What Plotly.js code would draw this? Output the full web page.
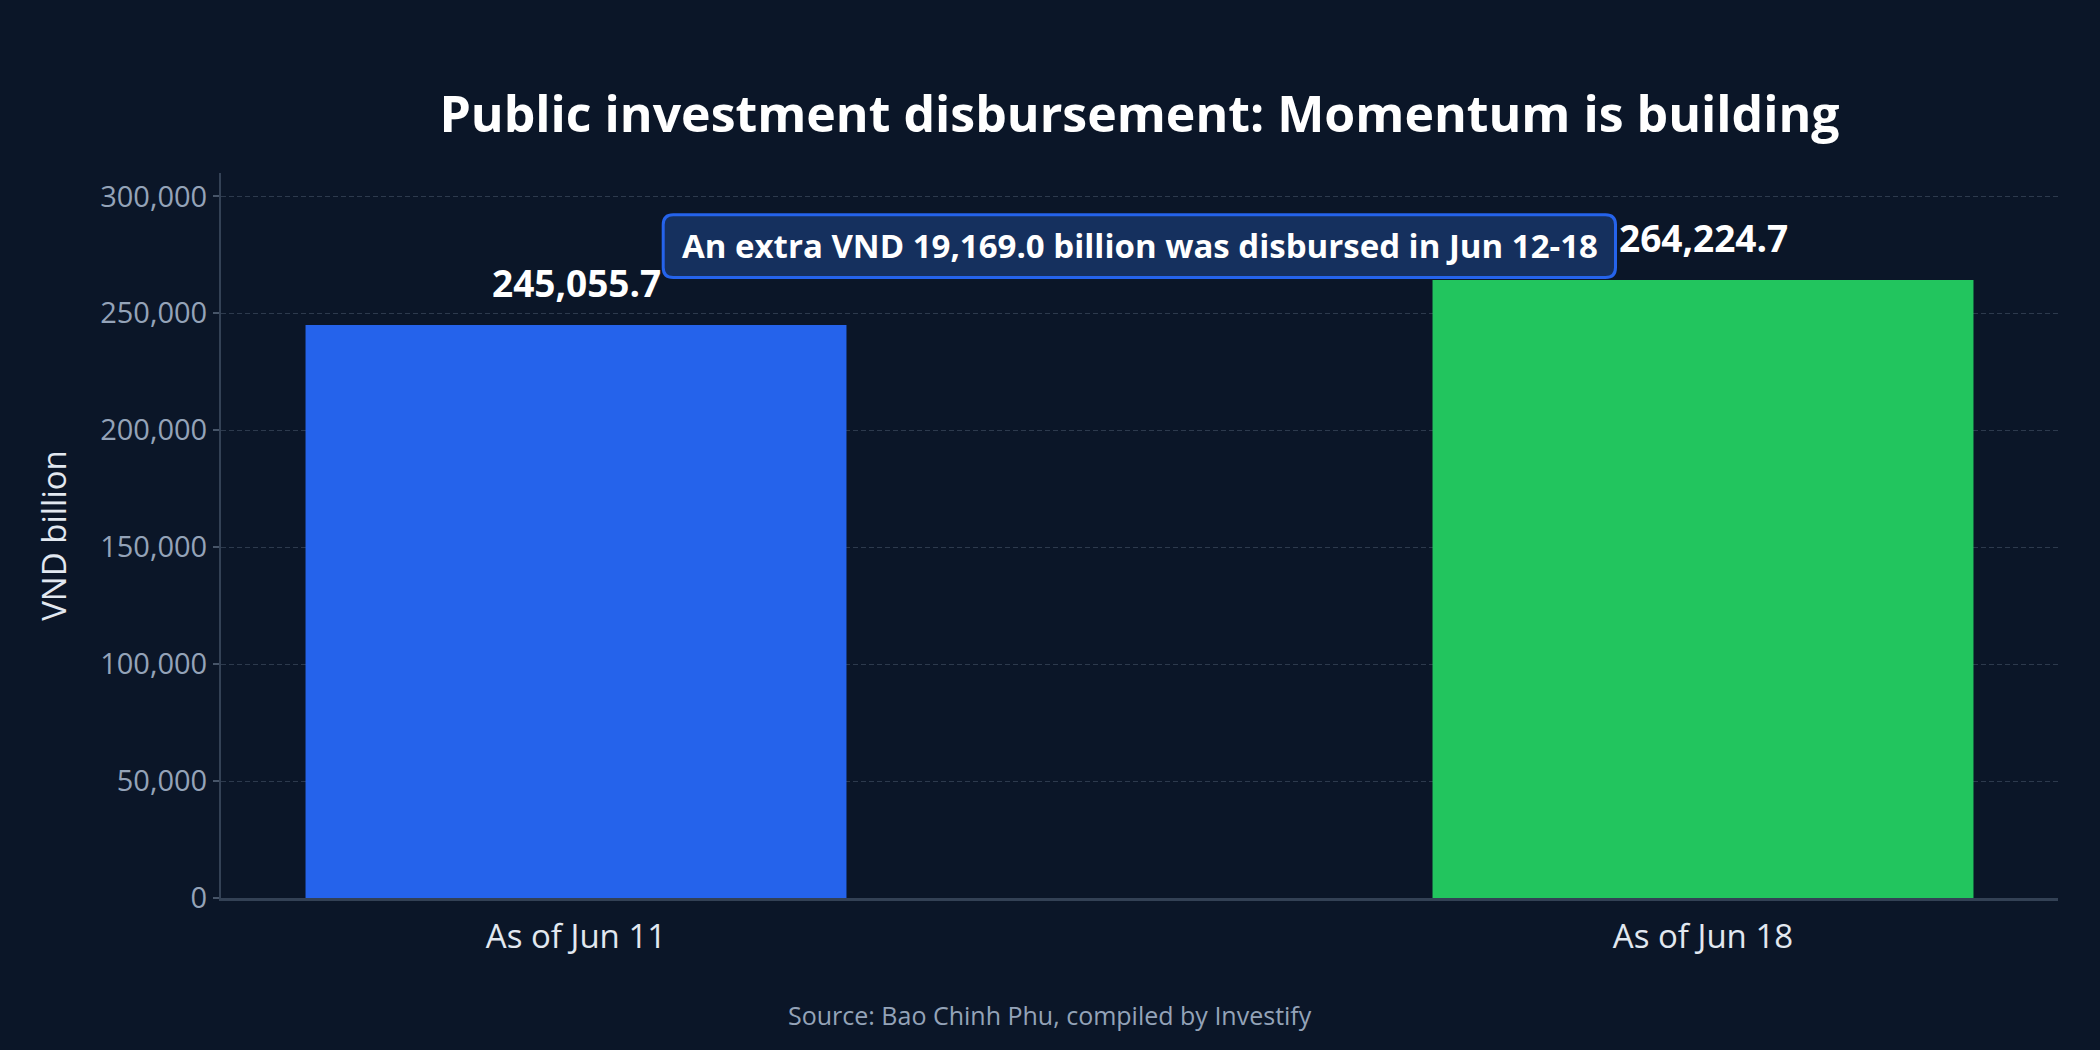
<!DOCTYPE html>
<html>
<head>
<meta charset="utf-8">
<script src="https://cdn.plot.ly/plotly-3.0.1.min.js"></script>
<style>
  html, body { margin: 0; padding: 0; background: #0b1628; }
  #chart { width: 2100px; height: 1050px; }
</style>
</head>
<body>
<div id="chart"></div>
<script>
var categories = ["As of Jun 11", "As of Jun 18"];
var values = [245055.7, 264224.7];
var barColors = ["#2563eb", "#22c55e"];
var yTicks = [0, 50000, 100000, 150000, 200000, 250000, 300000];

var FONT = "Open Sans";

function fmt(v) {
  return v.toLocaleString("en-US", {minimumFractionDigits: 1, maximumFractionDigits: 1});
}

var extra = values[1] - values[0];
var noteText = "An extra VND " + fmt(extra) + " billion was disbursed in Jun 12-18";

// plot area in pixels, used to place the rounded note box
var W = 2100, H = 1050;
var m = {l: 221, r: 42, t: 173, b: 152};
var pw = W - m.l - m.r, ph = H - m.t - m.b;
function px(x) { return (x - m.l) / pw; }
function py(y) { return (H - m.b - y) / ph; }

function roundRect(x0, y0, x1, y1, r) {
  var a = px(x0), b = px(x1), t = py(y0), u = py(y1);
  var rx = r / pw, ry = r / ph;
  return "M" + (a + rx) + "," + t +
    " L" + (b - rx) + "," + t +
    " Q" + b + "," + t + " " + b + "," + (t - ry) +
    " L" + b + "," + (u + ry) +
    " Q" + b + "," + u + " " + (b - rx) + "," + u +
    " L" + (a + rx) + "," + u +
    " Q" + a + "," + u + " " + a + "," + (u + ry) +
    " L" + a + "," + (t - ry) +
    " Q" + a + "," + t + " " + (a + rx) + "," + t + " Z";
}

var trace = {
  type: "bar",
  x: categories,
  y: values,
  width: 0.48,
  marker: {color: barColors, line: {width: 0}},
  hoverinfo: "skip"
};

var annotations = categories.map(function (c, i) {
  return {
    x: c, y: values[i], xref: "x", yref: "y",
    text: "<b>" + fmt(values[i]) + "</b>",
    showarrow: false, yanchor: "bottom", yshift: 15,
    font: {family: FONT, size: 37, color: "#ffffff"}
  };
});

annotations.push({
  x: 0.5, y: 0.9, xref: "paper", yref: "paper",
  text: "<b>" + noteText + "</b>",
  showarrow: false, xanchor: "center", yanchor: "middle",
  font: {family: FONT, size: 33, color: "#ffffff"}
});

annotations.push({
  x: px(1050), y: py(1015), xref: "paper", yref: "paper",
  text: "Source: Bao Chinh Phu, compiled by Investify",
  showarrow: false, xanchor: "center", yanchor: "middle",
  font: {family: FONT, size: 25, color: "#94a3b8"}
});

var layout = {
  width: W,
  height: H,
  margin: m,
  paper_bgcolor: "#0b1628",
  plot_bgcolor: "#0b1628",
  showlegend: false,
  font: {family: FONT, color: "#e2e8f0"},
  title: {
    text: "<b>Public investment disbursement: Momentum is building</b>",
    x: 0.5, xref: "paper", xanchor: "center",
    y: 1 - 114 / H, yref: "container", yanchor: "middle",
    font: {family: FONT, size: 50, color: "#ffffff"}
  },
  xaxis: {
    type: "category",
    range: [-0.315, 1.315],
    showgrid: false,
    zeroline: false,
    showline: true,
    linecolor: "#334155",
    linewidth: 3,
    ticks: "",
    ticklabelstandoff: 7,
    tickfont: {family: FONT, size: 33, color: "#e2e8f0"},
    fixedrange: true
  },
  yaxis: {
    range: [0, 310000],
    tickvals: yTicks,
    tickformat: ",",
    showgrid: true,
    gridcolor: "#2d3a4d",
    gridwidth: 1,
    griddash: "5px,3px",
    zeroline: false,
    showline: true,
    linecolor: "#334155",
    linewidth: 2,
    ticks: "outside",
    ticklen: 6,
    tickwidth: 2,
    tickcolor: "#475569",
    tickfont: {family: FONT, size: 29, color: "#94a3b8"},
    title: {
      text: "VND billion",
      standoff: 24,
      font: {family: FONT, size: 33, color: "#e2e8f0"}
    },
    fixedrange: true
  },
  shapes: [{
    type: "path",
    xref: "paper", yref: "paper",
    path: roundRect(663.2, 214.8, 1615.5, 277.5, 10),
    fillcolor: "#15305e",
    line: {color: "#2563eb", width: 3},
    layer: "above"
  }],
  annotations: annotations
};

Plotly.newPlot("chart", [trace], layout, {displayModeBar: false, staticPlot: true});
</script>
</body>
</html>
